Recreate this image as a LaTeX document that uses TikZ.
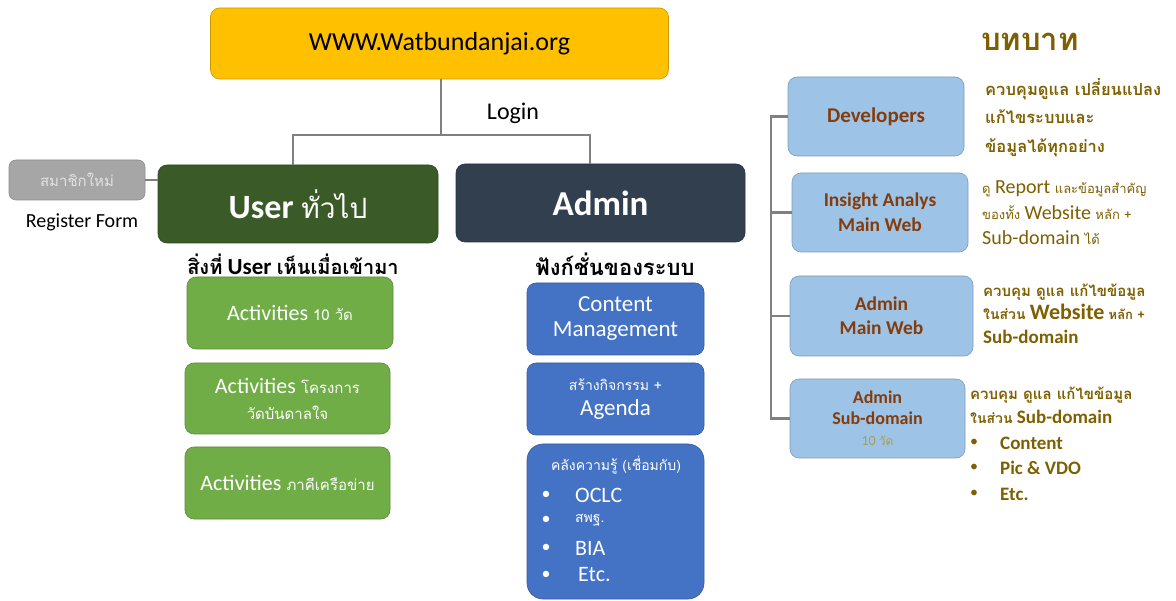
\documentclass[tikz,border=0pt]{standalone}
\usepackage{fontspec}
\setmainfont{Carlito}
\newfontfamily\thai[Script=Thai]{Loma}
\definecolor{cYellow}{HTML}{FFC000}
\definecolor{cDGreen}{HTML}{3A5A27}
\definecolor{cSlate}{HTML}{323F4F}
\definecolor{cGray}{HTML}{A6A6A6}
\definecolor{cGrayTxt}{HTML}{E2E2E2}
\definecolor{cGreen}{HTML}{70AD47}
\definecolor{cBlue}{HTML}{4472C4}
\definecolor{cLBlue}{HTML}{9DC3E6}
\definecolor{cBrown}{HTML}{843C0C}
\definecolor{cOlive}{HTML}{7F6000}
\definecolor{cLine}{HTML}{808080}
\definecolor{cTen}{HTML}{A5A055}
\newcommand\fsz[2]{\fontsize{#1}{#2}\selectfont}
\newcommand\ts[2]{{\thai\fsz{#1}{#1}#2}}
\begin{document}
\begin{tikzpicture}[x=1pt,y=-1pt,
  box/.style={rounded corners=9pt, inner sep=0pt, align=center, line width=0.6pt},
  gbox/.style={box, fill=cGreen, draw=cGreen!80!black, text=white, minimum width=205pt},
  bbox/.style={box, fill=cBlue, draw=cBlue!80!black, text=white, minimum width=177pt},
  rbox/.style={box, fill=cLBlue, draw=cLBlue!80!black, text=cBrown},
  conn/.style={draw=cLine, line width=2.6pt},
  lbl/.style={inner sep=0pt, align=left, anchor=west},
  txt/.style={inner sep=0pt, align=center}
]
\useasboundingbox (0,0) rectangle (1176,601);
\fill[white] (0,0) rectangle (1176,601);

% top part
\node[box, fill=cYellow, draw=cYellow!80!black, minimum width=458pt, minimum height=71pt, font=\fsz{26}{30}] (top) at (439.5,43.5) {WWW.Watbundanjai.org};
\node[txt, font=\fsz{24}{28}] (login) at (513,113) {Login};
\node[box, fill=cDGreen, draw=cDGreen!80!black, text=white, minimum width=280pt, minimum height=78pt, font={\bfseries\fsz{34}{38}}] (user) at (298,204) {User {\thai\mdseries\fsz{28}{38}ทั่วไป}};
\node[box, fill=cSlate, draw=cSlate!80!black, text=white, minimum width=289pt, minimum height=78pt, font={\bfseries\fsz{35}{38}}] (admin) at (600.5,203) {Admin};
\node[box, rounded corners=7pt, fill=cGray, draw=cGray!85!black, text=cGrayTxt, minimum width=136pt, minimum height=40pt, font={\thai\fsz{15}{18}}] (member) at (77,180) {สมาชิกใหม่};
\node[txt, font=\fsz{20}{22}] (reg) at (82,222) {Register Form};

\coordinate (hub) at (441,135);
\coordinate (ul) at (293,135);
\coordinate (al) at (590,135);
\draw[conn] (top.south -| hub) -- (hub);
\draw[conn] (user.north -| ul) -- (ul) -- (al) -- (admin.north -| al);
\draw[conn] (member.east) -- (member.east -| user.west);

% user column
\node[txt, font={\bfseries\fsz{23}{24}}] (sees) at (293,264) {\ts{20}{สิ่งที่} User \ts{20}{เห็นเมื่อเข้ามา}};
\node[gbox, minimum width=206pt, minimum height=72pt, font=\fsz{22}{26}] (g1) at (290,313) {Activities \ts{15}{10 วัด}};
\node[gbox, minimum height=71pt, font=\fsz{22}{26}] (g2) at (287.5,398.5) {Activities \ts{15}{โครงการ}\\\ts{15}{วัดบันดาลใจ}};
\node[gbox, minimum height=72pt, font=\fsz{22}{26}] (g3) at (287.5,483) {Activities \ts{15}{ภาคีเครือข่าย}};

% admin column
\node[txt, font={\thai\bfseries\fsz{22}{24}}] (func) at (615,264) {ฟังก์ชั่นของระบบ};
\node[bbox, minimum height=72pt, font=\fsz{23}{25}] (b1) at (615.5,319) {Content\\Management};
\node[bbox, minimum height=72pt, font=\fsz{23}{25}] (b2) at (615.5,399) {\ts{14}{สร้างกิจกรรม +}\\Agenda};
\node[bbox, rounded corners=16pt, minimum height=155pt] (b3) at (615.5,521.5) {};
\node[txt, text=white, font={\thai\fsz{14}{16}}] (b3t) at (616,465) {คลังความรู้ (เชื่อมกับ)};
\node[txt, text=white, font=\fsz{18}{20}] (b3d1) at (546,495) {•};
\node[txt, text=white, font=\fsz{18}{20}] (b3d2) at (546,520) {•};
\node[txt, text=white, font=\fsz{18}{20}] (b3d3) at (546,548) {•};
\node[txt, text=white, font=\fsz{18}{20}] (b3d4) at (546,575) {•};
\node[lbl, text=white, font=\fsz{22}{24}] (b3i1) at (575,495) {OCLC};
\node[lbl, text=white, font={\thai\fsz{14}{16}}] (b3i2) at (575,520) {สพฐ.};
\node[lbl, text=white, font=\fsz{22}{24}] (b3i3) at (575,548) {BIA};
\node[lbl, text=white, font=\fsz{22}{24}] (b3i4) at (578,575) {Etc.};

% roles column
\node[txt, text=cOlive, font={\thai\bfseries\fsz{31}{32}}] (roles) at (1030,42) {บทบาท};
\node[rbox, minimum width=176pt, minimum height=79pt, font={\bfseries\fsz{21}{22}}] (d1) at (876,116.5) {Developers};
\node[rbox, minimum width=176pt, minimum height=79pt, font={\bfseries\fsz{19.5}{25}}] (d2) at (880,212.5) {Insight Analys\\Main Web};
\node[rbox, minimum width=183pt, minimum height=80pt, font={\bfseries\fsz{19.5}{24}}] (d3) at (881.5,316) {Admin\\Main Web};
\node[rbox, minimum width=175pt, minimum height=79pt, font={\bfseries\fsz{18}{21}}] (d4) at (877.5,418.5) {Admin\\Sub-domain\\{\mdseries\color{cTen}\fsz{14}{21}10 \ts{12}{วัด}}};

\coordinate (sp) at (771,0);
\draw[conn] (d1.west) -- (d1.west -| sp) -- (d4.west -| sp) -- (d4.west);
\draw[conn] (d2.west) -- (d2.west -| sp);
\draw[conn] (d3.west) -- (d3.west -| sp);

% descriptions
\node[lbl, text=cOlive, font={\thai\bfseries\fsz{16.5}{28.5}}] (dd1) at (985,117.5) {ควบคุมดูแล เปลี่ยนแปลง\\แก้ไขระบบและ\\ข้อมูลได้ทุกอย่าง};
\node[lbl, text=cOlive, font=\fsz{20}{25.5}] (dd2) at (982,213) {\ts{13}{ดู} Report \ts{13}{และข้อมูลสำคัญ}\\\ts{13}{ของทั้ง} Website \ts{13}{หลัก +}\\Sub-domain \ts{13}{ได้}};
\node[lbl, text=cOlive, font={\bfseries\fsz{19}{23.5}}] (dd3) at (983,313.5) {\ts{15}{ควบคุม ดูแล แก้ไขข้อมูล}\\ \ts{14}{ในส่วน} {\fsz{22}{23.5}Website} \ts{13}{หลัก +}\\Sub-domain};
\node[lbl, text=cOlive, font={\bfseries\fsz{19}{24.5}}] (dd4) at (970,405.5) {\ts{15}{ควบคุม ดูแล แก้ไขข้อมูล}\\\ts{14}{ในส่วน} Sub-domain};
\node[txt, text=cOlive, font=\fsz{16}{18}] (dd4b1) at (974,443) {•};
\node[txt, text=cOlive, font=\fsz{16}{18}] (dd4b2) at (974,468) {•};
\node[txt, text=cOlive, font=\fsz{16}{18}] (dd4b3) at (974,494) {•};
\node[lbl, text=cOlive, font={\bfseries\fsz{19}{21}}] (dd4i1) at (1000,443) {Content};
\node[lbl, text=cOlive, font={\bfseries\fsz{19}{21}}] (dd4i2) at (1000,468) {Pic \& VDO};
\node[lbl, text=cOlive, font={\bfseries\fsz{19}{21}}] (dd4i3) at (1000,494) {Etc.};
\end{tikzpicture}
\end{document}
